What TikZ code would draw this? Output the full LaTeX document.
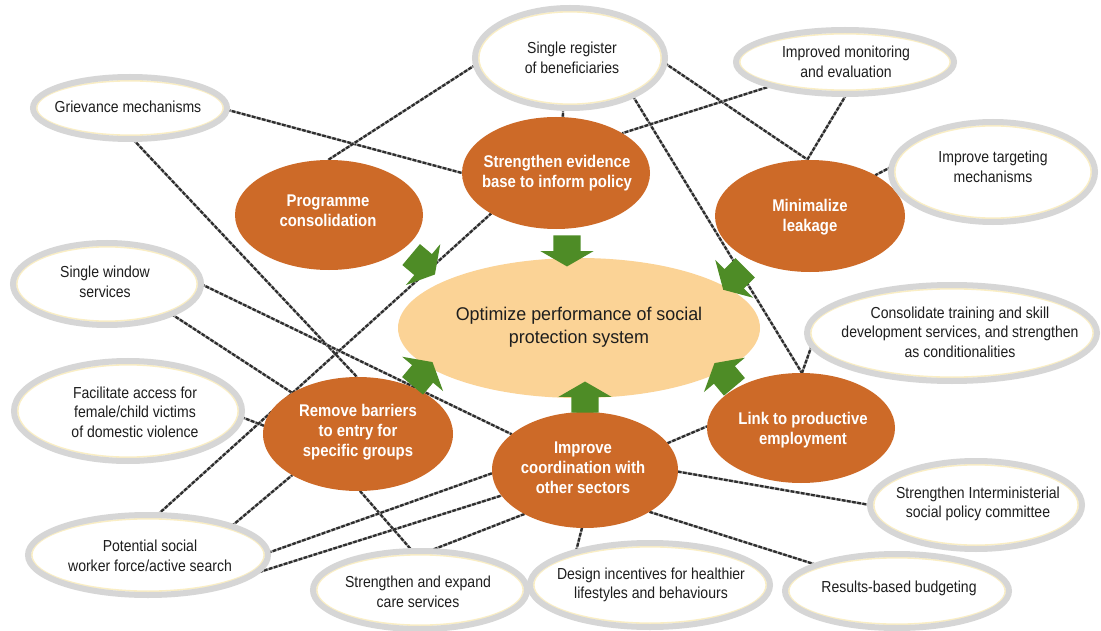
\documentclass[tikz,border=0pt]{standalone}
\usepackage{fontspec}
\setmainfont{Liberation Sans}[FakeStretch=0.88]
\newfontfamily\cfont{Liberation Sans}[FakeStretch=0.97]
\usetikzlibrary{shapes.geometric,shapes.arrows,calc}
\pgfdeclarelayer{bg}
\pgfsetlayers{bg,main}
\definecolor{orng}{RGB}{205,106,40}
\definecolor{peach}{RGB}{251,211,150}
\definecolor{grn}{RGB}{78,140,38}
\definecolor{ring}{RGB}{214,214,214}
\definecolor{cream}{RGB}{250,238,196}
\definecolor{dline}{RGB}{45,45,45}
\definecolor{lline}{RGB}{165,165,165}
\definecolor{txtc}{RGB}{30,30,30}
\tikzset{
  gell/.style={ellipse, draw=ring, line width=6bp, fill=white, inner sep=0pt, outer sep=0pt,
    path picture={\draw[cream, line width=1.6bp] let \p1=(path picture bounding box.north east), \p2=(path picture bounding box.center) in (\p2) ellipse [x radius={\x1-\x2-3.8pt}, y radius={\y1-\y2-3.8pt}];}},
  oell/.style={ellipse, fill=orng, inner sep=0pt, outer sep=0pt},
  cell/.style={ellipse, fill=peach, inner sep=0pt, outer sep=0pt},
  gtxt/.style={align=center, text=txtc, font=\fontsize{16}{19.5}\selectfont, inner sep=0pt},
  otxt/.style={align=center, text=white, font=\bfseries\fontsize{17}{20}\selectfont, inner sep=0pt},
  ctxt/.style={align=center, text=txtc, font=\cfont\fontsize{18.5}{23}\selectfont, inner sep=0pt},
  conn/.style={draw=dline, line width=2.3bp, dash pattern=on 3.6bp off 1.6bp,
    preaction={draw=lline, line width=2.3bp, solid}},
  garrow/.style={single arrow, fill=grn, draw=none, minimum height=31bp, inner xsep=0pt, inner ysep=13.5bp,
    single arrow head extend=13bp, single arrow tip angle=120, outer sep=0pt}
}
\begin{document}
\begin{tikzpicture}[x=1bp, y=-1bp]
\useasboundingbox (0,0) rectangle (1101,631);
\begin{pgfonlayer}{bg}
  \fill[white] (0,0) rectangle (1101,631);
\end{pgfonlayer}

% central
\node[cell, minimum width=362bp, minimum height=140bp] (center) at (579,328) {};
\node[ctxt] (center-t) at (579,327) {Optimize performance of social\\protection system};

% orange ellipses
\node[oell, minimum width=188bp, minimum height=110bp] (prog) at (329,215) {};
\node[oell, minimum width=188bp, minimum height=112bp] (evid) at (556,173) {};
\node[oell, minimum width=190bp, minimum height=112bp] (minim) at (810,216) {};
\node[oell, minimum width=190bp, minimum height=114bp] (remove) at (358,434) {};
\node[oell, minimum width=186bp, minimum height=116bp] (coord) at (585,470) {};
\node[oell, minimum width=188bp, minimum height=110bp] (link) at (801,428) {};

\node[otxt] (prog-t) at (328,211) {Programme\\consolidation};
\node[otxt] (evid-t) at (557,173) {Strengthen evidence\\base to inform policy};
\node[otxt] (minim-t) at (810,217) {Minimalize\\leakage};
\node[otxt] (remove-t) at (358,432) {Remove barriers\\to entry for\\specific groups};
\node[otxt] (coord-t) at (583,468) {Improve\\coordination with\\other sectors};
\node[otxt] (link-t) at (803,430) {Link to productive\\employment};

% grey ellipses
\node[gell, minimum width=194bp, minimum height=62bp] (griev) at (130,108) {};
\node[gell, minimum width=190bp, minimum height=100bp] (reg) at (570,58) {};
\node[gell, minimum width=218bp, minimum height=64bp] (mon) at (845,62) {};
\node[gell, minimum width=204bp, minimum height=100bp] (targ) at (993,172) {};
\node[gell, minimum width=188bp, minimum height=82bp] (win) at (107,284) {};
\node[gell, minimum width=228bp, minimum height=100bp] (fac) at (128,411) {};
\node[gell, minimum width=290bp, minimum height=96bp] (cons) at (952,333) {};
\node[gell, minimum width=212bp, minimum height=88bp] (inter) at (976,505) {};
\node[gell, minimum width=224bp, minimum height=74bp] (budg) at (897,591) {};
\node[gell, minimum width=240bp, minimum height=84bp] (design) at (650,585) {};
\node[gell, minimum width=214bp, minimum height=78bp] (care) at (420,590) {};
\node[gell, minimum width=240bp, minimum height=80bp] (pot) at (148,555) {};

\node[gtxt] (griev-t) at (128,107) {Grievance mechanisms};
\node[gtxt] (reg-t) at (572,58) {Single register\\of beneficiaries};
\node[gtxt] (mon-t) at (846,62) {Improved monitoring\\and evaluation};
\node[gtxt] (targ-t) at (993,167) {Improve targeting\\mechanisms};
\node[gtxt] (win-t) at (105,282) {Single window\\services};
\node[gtxt] (fac-t) at (135,412) {Facilitate access for\\female/child victims\\of domestic violence};
\node[gtxt] (cons-t) at (960,332) {Consolidate training and skill\\development services, and strengthen\\as conditionalities};
\node[gtxt] (inter-t) at (978,504) {Strengthen Interministerial\\social policy committee};
\node[gtxt] (budg-t) at (899,588) {Results-based budgeting};
\node[gtxt] (design-t) at (651,585) {Design incentives for healthier\\lifestyles and behaviours};
\node[gtxt] (care-t) at (418,592) {Strengthen and expand\\care services};
\node[gtxt] (pot-t) at (150,556) {Potential social\\worker force/active search};

% green block arrows
\node[garrow, rotate=320] (a1) at (420,262) {};
\node[garrow, rotate=270] (a2) at (567,247) {};
\node[garrow, rotate=225] (a3) at (737,276) {};
\node[garrow, rotate=50] (a4) at (420,377) {};
\node[garrow, rotate=90] (a5) at (585,401) {};
\node[garrow, rotate=130] (a6) at (727,378) {};

% connectors
\begin{pgfonlayer}{bg}
\draw[conn] (griev.359) -- (evid.180);
\draw[conn] (griev.275) -- (remove.91);
\draw[conn] (remove.272) -- (care.101);
\draw[conn] (reg.184) -- (prog.91);
\draw[conn] (reg.262) -- (evid.83);
\draw[conn] (reg.357) -- (minim.92);
\draw[conn] (reg.329) -- (link.89);
\draw[conn] (mon.198) -- (evid.31);
\draw[conn] (mon.273) -- (minim.93);
\draw[conn] (targ.177) -- (minim.32);
\draw[conn] (win.335) -- (remove.148);
\draw[conn] (win.0) -- (coord.154);
\draw[conn] (fac.357) -- (remove.175);
\draw[conn] (pot.77) -- (evid.212);
\draw[conn] (pot.19) -- (remove.212);
\draw[conn] (pot.1) -- (coord.182);
\draw[conn] (pot.350) -- (coord.197);
\draw[conn] (care.77) -- (coord.216);
\draw[conn] (coord.267) -- (design.156);
\draw[conn] (coord.18) -- (link.179);
\draw[conn] (coord.359) -- (inter.180);
\draw[conn] (coord.327) -- (budg.162);
\draw[conn] (cons.185) -- (link.89);
\end{pgfonlayer}
\end{tikzpicture}
\end{document}
